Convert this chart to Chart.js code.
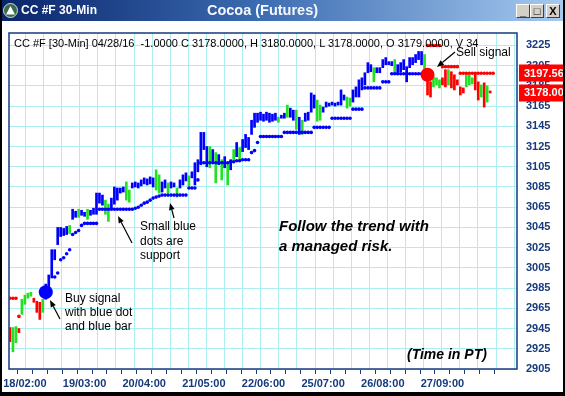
<!DOCTYPE html>
<html><head><meta charset="utf-8">
<script src="https://cdn.jsdelivr.net/npm/chart.js@4.4.0/dist/chart.umd.min.js"></script>
<style>
html,body{margin:0;padding:0;background:#fff;}
#win{position:relative;width:565px;height:396px;overflow:hidden;background:#fff;font-family:"Liberation Sans",Arial,sans-serif;}
#c{position:absolute;left:0;top:0;}
#tb{position:absolute;left:0;top:0;width:565px;height:21px;background:linear-gradient(to right,#0a246a 0%,#3a6ab0 45%,#a6caf0 100%);z-index:3;}
#tbl{position:absolute;left:21px;top:3px;color:#fff;font-weight:bold;font-size:12px;line-height:15px;}
#tbc{position:absolute;left:0;width:525px;top:1px;text-align:center;color:#f4f8ff;font-weight:bold;font-size:14.5px;line-height:18px;}
.btn{position:absolute;top:4px;width:12px;height:12px;background:#d4d0c8;border-top:1px solid #fff;border-left:1px solid #fff;border-right:1px solid #404040;border-bottom:1px solid #404040;font:bold 11px "Liberation Sans",Arial;color:#000;text-align:center;line-height:12px;}
.ann{position:absolute;z-index:2;color:#000;white-space:nowrap;}
#legend{left:14px;top:37px;font-size:11px;line-height:12px;}
#sell{left:456px;top:45px;font-size:12px;line-height:14px;}
#buy{left:65px;top:291px;font-size:12px;line-height:14px;}
#sup{left:140px;top:219px;font-size:12px;line-height:14.5px;}
#follow{left:279px;top:216px;font-size:15px;line-height:20px;font-weight:bold;font-style:italic;}
#time{left:407px;top:346px;font-size:14px;line-height:16px;font-weight:bold;font-style:italic;}
#arrows{position:absolute;left:0;top:0;z-index:2;}
.fr{position:absolute;background:#000;z-index:4;}
</style></head>
<body>
<div id="win">
<canvas id="c" width="565" height="396"></canvas>
<div id="tb">
  <svg style="position:absolute;left:3px;top:3px" width="15" height="15"><circle cx="7.5" cy="7.5" r="7" fill="#3c6a4c" stroke="#cfd8e0" stroke-width="1"/><path d="M7.5 3 L12 11.5 L3 11.5 Z" fill="#ffffff"/></svg>
  <span id="tbl">CC #F 30-Min</span>
  <span id="tbc">Cocoa (Futures)</span>
  <div class="btn" style="left:516px;">_</div>
  <div class="btn" style="left:530px;">&#9633;</div>
  <div class="btn" style="left:546px;">X</div>
</div>
<div class="ann" id="legend">CC #F [30-Min] 04/28/16&nbsp; -1.0000 C 3178.0000, H 3180.0000, L 3178.0000, O 3179.0000, V 34</div>
<div class="ann" id="sell">Sell signal</div>
<div class="ann" id="buy">Buy signal<br>with blue dot<br>and blue bar</div>
<div class="ann" id="sup">Small blue<br>dots are<br>support</div>
<div class="ann" id="follow">Follow the trend with<br>a managed risk.</div>
<div class="ann" id="time">(Time in PT)</div>
<svg id="arrows" width="565" height="396"></svg>
<div class="fr" style="right:0;top:0;width:2px;height:396px;"></div>
<div class="fr" style="left:0;top:0;width:2px;height:396px;"></div>
<div class="fr" style="left:0;bottom:0;width:565px;height:4px;"></div>
</div>
<script>
// ---- data ----
const barHigh = [2946,2946,2947,2945,2974,2978,2980,2981,2975,2972,
2971,2974,2989,2998,3023,3023,3045,3045,3044,3046,
3047,3063,3061,3063,3062,3060,3063,3062,3064,3079,
3079,3077,3072,3068,3074,3085,3084,3084,3085,3090,
3082,3089,3090,3089,3092,3094,3093,3095,3094,3102,
3097,3090,3092,3089,3090,3089,3084,3092,3097,3099,
3096,3100,3109,3112,3139,3139,3125,3125,3122,3119,
3117,3112,3115,3109,3112,3122,3129,3124,3132,3137,
3134,3151,3158,3158,3159,3157,3159,3158,3157,3158,
3154,3156,3158,3166,3163,3161,3161,3154,3151,3158,
3159,3178,3176,3171,3166,3164,3169,3168,3169,3168,
3169,3181,3176,3174,3173,3181,3184,3191,3193,3198,
3208,3206,3203,3203,3203,3211,3213,3209,3209,3211,
3206,3208,3211,3204,3213,3213,3216,3219,3219,3216,
3191,3189,3194,3193,3191,3193,3201,3201,3199,3196,
3191,3184,3183,3198,3196,3193,3198,3189,3186,3188,
3185,3180];
const barLow = [2932,2922,2931,2941,2959,2969,2975,2977,2971,2961,
2954,2961,2974,2981,2995,3013,3028,3036,3037,3038,
3039,3053,3055,3055,3057,3056,3053,3057,3058,3058,
3069,3067,3058,3051,3063,3068,3072,3079,3080,3072,
3070,3084,3085,3084,3086,3088,3087,3088,3085,3082,
3079,3080,3084,3079,3084,3085,3075,3084,3087,3091,
3086,3094,3087,3100,3107,3122,3105,3104,3109,3089,
3107,3092,3104,3087,3102,3109,3115,3112,3120,3124,
3122,3137,3144,3149,3151,3150,3151,3149,3150,3151,
3149,3153,3153,3154,3154,3151,3142,3137,3137,3150,
3151,3159,3163,3150,3151,3159,3164,3165,3166,3165,
3166,3166,3171,3163,3165,3169,3174,3174,3181,3186,
3198,3199,3189,3198,3198,3203,3206,3206,3205,3198,
3196,3199,3201,3189,3203,3206,3208,3211,3206,3198,
3176,3174,3184,3186,3183,3186,3184,3186,3183,3181,
3186,3176,3178,3184,3186,3187,3181,3171,3174,3164,
3169,3178];
// r = down (red), g = neutral (green), b = up (blue)
const barTrend = ("rggrggggrr"+"rgbbbbbbbb"+"gbbgbbgbbb"+"bbggbbbbbg"+"gbbbbbbbbg"+
"gbbgbbgbbb"+"gbbbbbbgbg"+"bgbgbgbgbb"+"bbbbbbbbbb"+"gbbgbbgbgb"+
"bbbggbbbbb"+"bbbggbbbbb"+"bbgbbbbbbg"+"bbbbbbbbbg"+"rrgggrrgrr"+
"rrrgggrrgr"+"gr").split('');
const supportStart = 15;
const supportVals = [2996,3000,3013,3015,3019,3023,3038,3040,3042,3047,
3049,3049,3049,3049,3049,3063,3063,3063,3063,3063,
3063,3063,3063,3063,3063,3063,3063,3064,3065,3067,
3069,3070,3072,3074,3075,3076,3077,3077,3077,3077,
3077,3077,3077,3077,3077,3084,3084,3084,3092,3109,
3109,3109,3109,3109,3109,3109,3109,3109,3109,3110,
3110,3111,3111,3112,3112,3112,3119,3121,3129,3135,
3135,3135,3135,3135,3135,3135,3135,3139,3139,3139,
3139,3139,3139,3139,3139,3139,3139,3144,3144,3144,
3144,3144,3144,3153,3153,3153,3153,3153,3153,3153,
3162,3162,3162,3162,3183,3183,3183,3183,3183,3183,
3189,3189,3189,3197,3197,3197,3197,3197,3197,3197,
3197,3197,3197,3197];
const resistIdx = [0,1,2,3,140,141,142,143,144,145,146,147,148,149,150,151,152,153,154,155,156,157,158,159,160,161,162];
const resistVals = [2975,2975,2975,2957,3225,3225,3225,3225,3225,3204,3204,3204,3204,3204,3204,
3197.56,3197.56,3197.56,3197.56,3197.56,3197.56,3197.56,3197.56,3197.56,3197.56,3197.56,3197.56];
const buySignal = {x:12, y:2981};
const sellSignal = {x:140, y:3196};
const yTicks = [2905,2925,2945,2965,2985,3005,3025,3045,3065,3085,3105,3125,3145,3165,3185,3205,3225];
const xTickPos = [0,5,10,15,20,25,30,35,40,45,50,55,60,65,70,75,80,85,90,95,100,105,110,115,120,125,130,135,140,145,150,155,160];
const dayLabelPos = [5,25,45,65,85,105,125,145];
const dayLabels = ['18/02:00','19/03:00','20/04:00','21/05:00','22/06:00','25/07:00','26/08:00','27/09:00'];
const priceBoxes = [{v:3197.56, t:'3197.56'},{v:3178.00, t:'3178.00'}];

// ---- styles ----
const COL = {b:'#0000ff', g:'#22e022', r:'#ff0000'};
const NAVY = '#163a7c';
const GRID = '#aeeef0';
const FONT = '"Liberation Sans", Arial, sans-serif';

const barData = barHigh.map((h,i)=>({x:i, y:[barLow[i], h]}));
const supportData = supportVals.map((v,k)=>({x:supportStart+k, y:v}));
const resistData = resistIdx.map((x,k)=>({x:x, y:resistVals[k]}));

const gridX = [];
for (let v = 5; v < 170; v += 6.07) gridX.push(v);

const framePlugin = {
  id:'frame',
  beforeDatasetsDraw(chart){
    const {ctx, chartArea:a, scales:{x}} = chart;
    ctx.save();
    ctx.strokeStyle = GRID; ctx.lineWidth = 1;
    gridX.forEach(v=>{
      const px = Math.round(x.getPixelForValue(v)) + 0.5;
      ctx.beginPath(); ctx.moveTo(px, a.top); ctx.lineTo(px, a.bottom); ctx.stroke();
    });
    ctx.strokeStyle = NAVY; ctx.lineWidth = 1.5;
    ctx.strokeRect(a.left, a.top, a.right - a.left, a.bottom - a.top);
    ctx.restore();
  },
  afterDraw(chart){
    const {ctx, chartArea:a, scales:{y}} = chart;
    ctx.save();
    priceBoxes.forEach(b=>{
      const py = y.getPixelForValue(b.v);
      ctx.fillStyle = '#ff0000';
      ctx.fillRect(a.right + 2, Math.round(py) - 8.5, 50, 17);
      ctx.fillStyle = '#eaffff';
      ctx.font = 'bold 11px ' + FONT;
      ctx.textBaseline = 'middle';
      ctx.fillText(b.t, a.right + 7, py + 0.5);
    });
    ctx.restore();
  }
};

new Chart(document.getElementById('c'), {
  type:'bar',
  data:{datasets:[
    {type:'scatter', data:[buySignal], pointRadius:7, pointHoverRadius:7, backgroundColor:COL.b, borderWidth:0, order:0},
    {type:'scatter', data:[sellSignal], pointRadius:7, pointHoverRadius:7, backgroundColor:COL.r, borderWidth:0, order:0},
    {type:'scatter', data:supportData, pointRadius:1.8, backgroundColor:COL.b, borderWidth:0, order:1},
    {type:'scatter', data:resistData, pointRadius:1.8, backgroundColor:COL.r, borderWidth:0, order:1},
    {type:'bar', data:barData, backgroundColor:barTrend.map(c=>COL[c]), barThickness:2, grouped:false, order:2}
  ]},
  options:{
    responsive:false, animation:false, devicePixelRatio:1,
    layout:{padding:{left:9, top:33, right:0, bottom:0}},
    plugins:{legend:{display:false}, tooltip:{enabled:false}},
    scales:{
      x:{type:'linear', min:-0.33, max:170, offset:false,
        afterFit(s){ s.height = 27; },
        afterBuildTicks(s){ s.ticks = xTickPos.map(v=>({value:v})); },
        grid:{drawOnChartArea:false, drawTicks:true, tickLength:5, color:NAVY, lineWidth:1},
        border:{display:false},
        ticks:{autoSkip:false, maxRotation:0, minRotation:0, padding:3, color:NAVY,
          font:{family:FONT, size:11, weight:'bold'},
          callback:(v)=>{ const k = dayLabelPos.indexOf(v); return k >= 0 ? dayLabels[k] : ''; }}
      },
      y:{type:'linear', position:'right', min:2905, max:3237.3,
        afterFit(s){ s.width = 48; },
        afterBuildTicks(s){ s.ticks = yTicks.map(v=>({value:v})); },
        grid:{color:GRID, drawTicks:false, lineWidth:1},
        border:{display:false},
        ticks:{padding:9, color:NAVY, font:{family:FONT, size:11, weight:'bold'}, callback:(v)=>String(v)}
      }
    }
  },
  plugins:[framePlugin]
});

// annotation arrows
const arrows = [[455,52,437,67],[60,319,50,300],[132,243,118,216],[174,218,170,203]];
const svg = document.getElementById('arrows');
arrows.forEach(([x1,y1,x2,y2])=>{
  const ang = Math.atan2(y2-y1, x2-x1), L = 7, W = 2.8;
  const bx = x2 - L*Math.cos(ang), by = y2 - L*Math.sin(ang);
  const px = -Math.sin(ang)*W, py = Math.cos(ang)*W;
  svg.insertAdjacentHTML('beforeend',
    `<line x1="${x1}" y1="${y1}" x2="${bx}" y2="${by}" stroke="#000" stroke-width="1.2"/>`+
    `<polygon points="${x2},${y2} ${bx+px},${by+py} ${bx-px},${by-py}" fill="#000"/>`);
});
</script>
</body></html>
